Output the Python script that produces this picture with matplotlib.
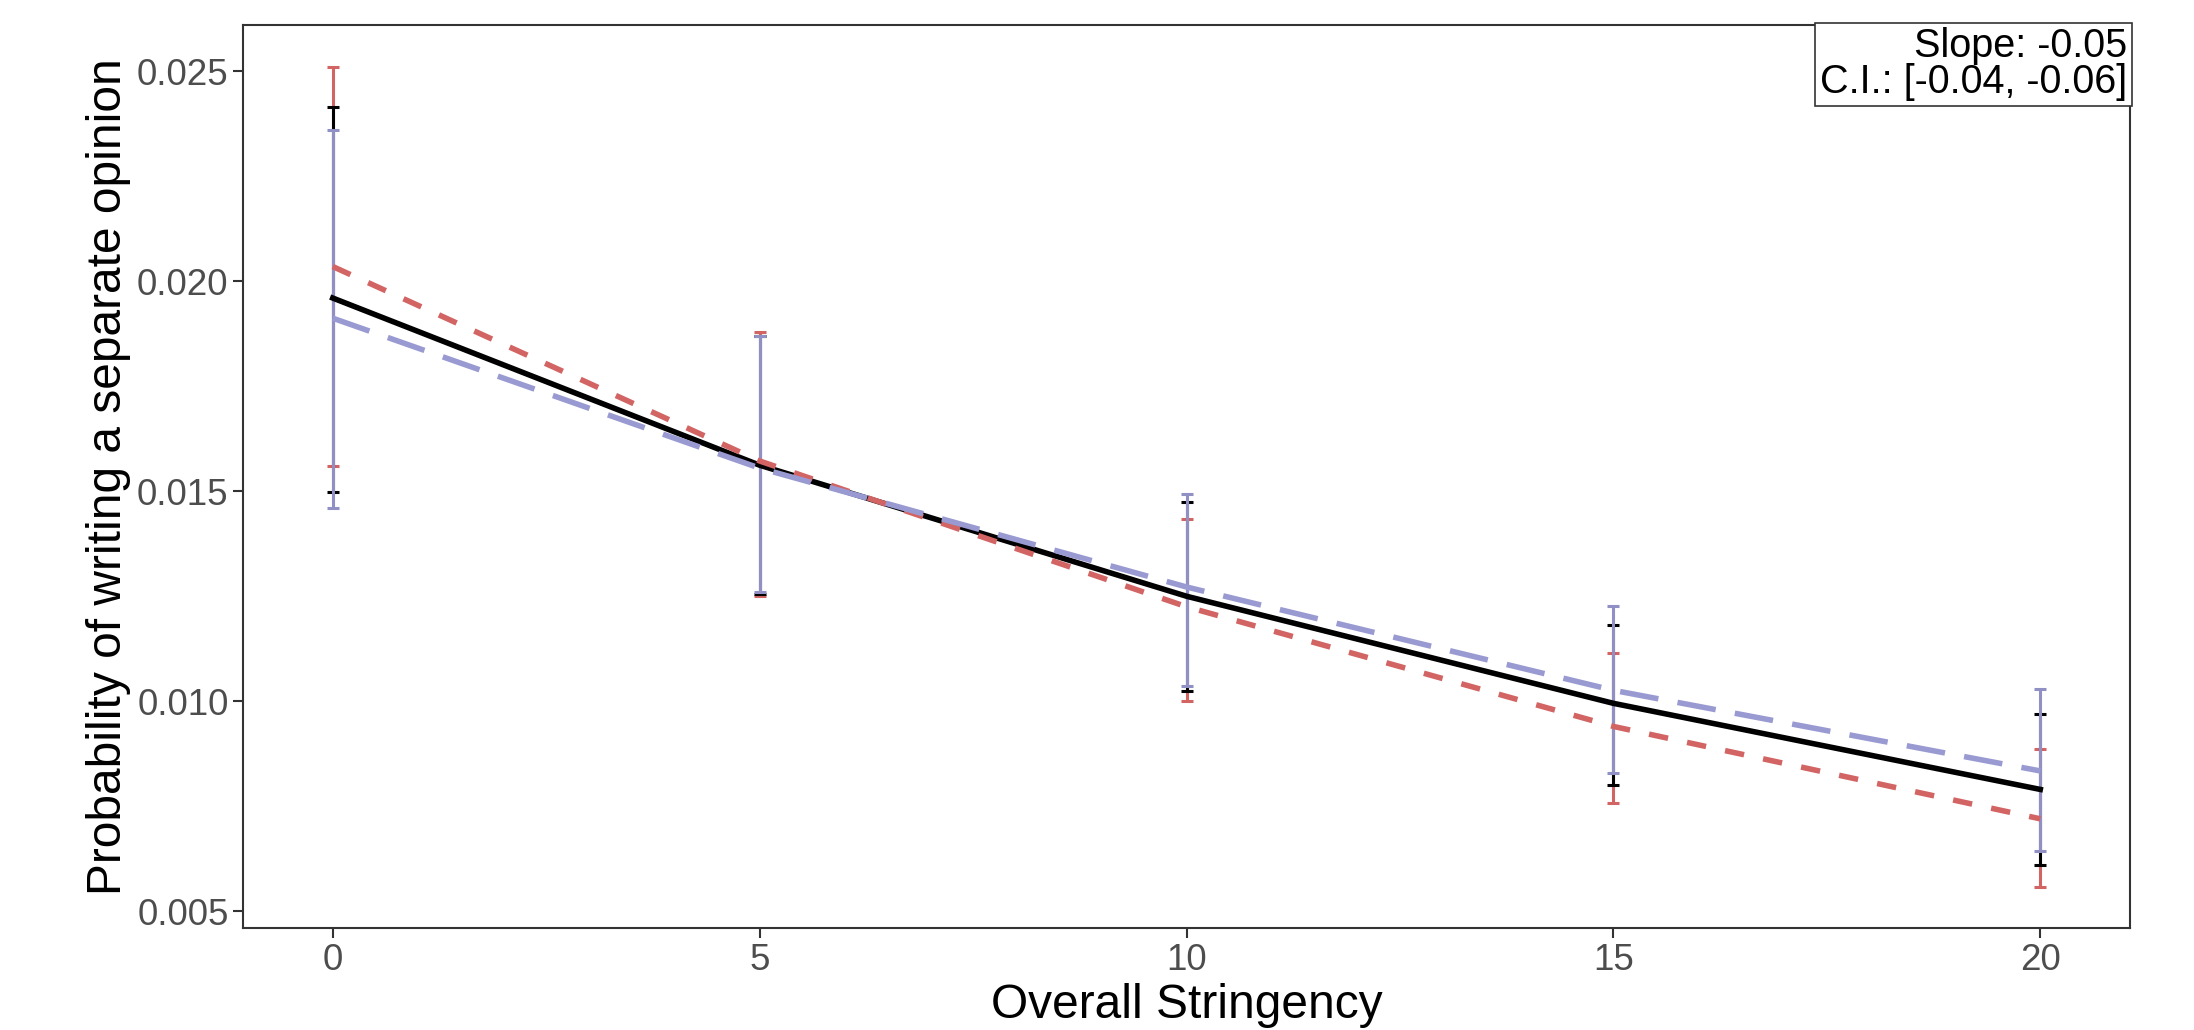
import matplotlib.pyplot as plt

plt.rcParams['font.family'] = ['Liberation Sans', 'DejaVu Sans']

# stringency levels
stringency = [0, 5, 10, 15, 20]

# fitted probabilities for each model
black_fit = [0.0196, 0.01562, 0.01250, 0.00995, 0.00790]
red_fit = [0.02035, 0.01572, 0.01225, 0.00940, 0.00720]
blue_fit = [0.01912, 0.01555, 0.01272, 0.01026, 0.00834]

# confidence interval bounds
black_low = [0.01499, 0.01255, 0.01025, 0.00800, 0.00609]
black_high = [0.02416, 0.01870, 0.01475, 0.01182, 0.00969]
red_low = [0.01560, 0.01250, 0.01000, 0.00757, 0.00558]
red_high = [0.02510, 0.01880, 0.01435, 0.01116, 0.00886]
blue_low = [0.01461, 0.01260, 0.01037, 0.00830, 0.00644]
blue_high = [0.02360, 0.01870, 0.01493, 0.01227, 0.01028]

slope_text = 'Slope: -0.05\nC.I.: [-0.04, -0.06]'

RED = '#D26464'
BLUE = '#9A9AD2'


def err(fit, low, high):
    return [[f - l for f, l in zip(fit, low)], [h - f for f, h in zip(fit, high)]]


fig = plt.figure(figsize=(21.94, 10.30), dpi=100)
ax = fig.add_axes([0.1108, 0.099, 0.9708 - 0.1108, 0.9757 - 0.099])

# error bars (red under black under blue)
ax.errorbar(stringency, red_fit, yerr=err(red_fit, red_low, red_high), fmt='none',
            ecolor=RED, elinewidth=2.2, capsize=4, capthick=2.2, zorder=2)
ax.errorbar(stringency, black_fit, yerr=err(black_fit, black_low, black_high), fmt='none',
            ecolor='black', elinewidth=2.2, capsize=4, capthick=2.2, zorder=3)
ax.errorbar(stringency, blue_fit, yerr=err(blue_fit, blue_low, blue_high), fmt='none',
            ecolor='#9090C4', elinewidth=2.2, capsize=4, capthick=2.2, zorder=4)

# fitted lines
ax.plot(stringency, black_fit, color='black', lw=4, zorder=5)
ax.plot(stringency, red_fit, color=RED, lw=4, dashes=(3.5, 3.5), zorder=6)
ax.plot(stringency, blue_fit, color=BLUE, lw=4, dashes=(7, 3.5), zorder=7)

ax.set_xlim(-1.05, 21.05)
ax.set_ylim(0.0046, 0.0261)
ax.set_xticks([0, 5, 10, 15, 20])
ax.set_yticks([0.005, 0.010, 0.015, 0.020, 0.025])
ax.set_yticklabels(['0.005', '0.010', '0.015', '0.020', '0.025'])

ax.tick_params(axis='both', labelsize=26.5, labelcolor='#4D4D4D', color='#333333',
               length=7, width=1.5)
for sp in ax.spines.values():
    sp.set_color('#333333')
    sp.set_linewidth(1.5)

ax.set_xlabel('Overall Stringency', fontsize=34.5, labelpad=4)
ax.set_ylabel('Probability of writing a separate opinion', fontsize=34.5, labelpad=4)

ax.text(0.9985, 0.9975, slope_text, transform=ax.transAxes, ha='right', va='top',
        fontsize=28.5, linespacing=0.92, zorder=10,
        bbox=dict(boxstyle='square,pad=0.12', facecolor='white', edgecolor='#333333', lw=1.2))

fig.savefig('out.png', dpi=100)
